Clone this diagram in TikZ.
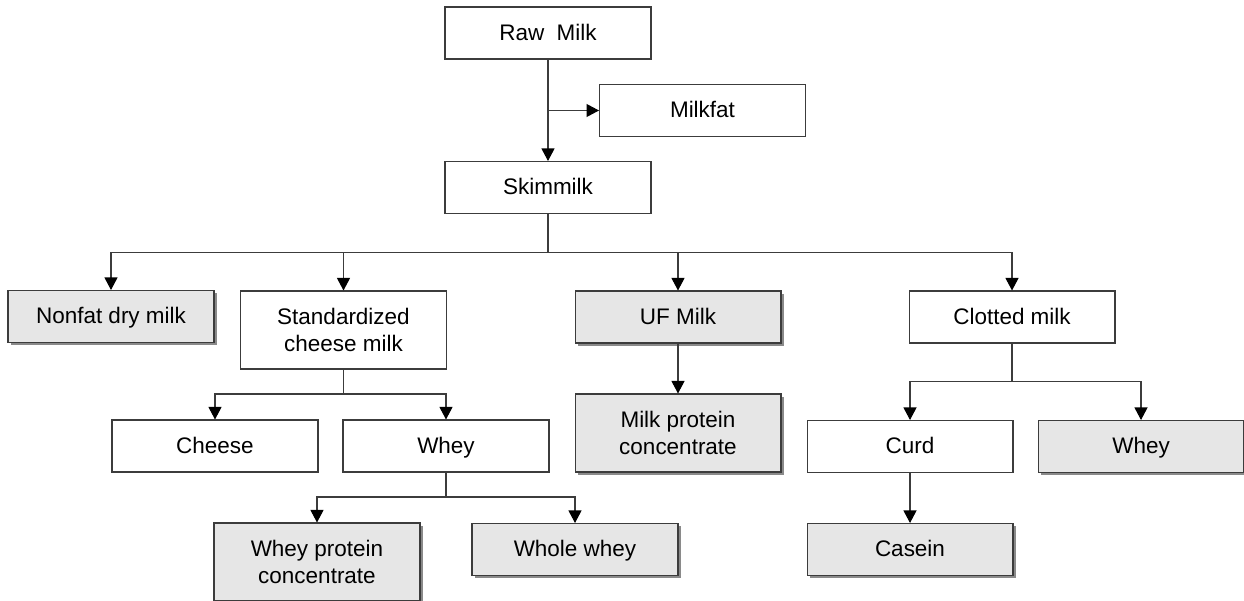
\documentclass[tikz,border=0pt]{standalone}
\usepackage{fontspec}
\setmainfont{Liberation Sans}
\usetikzlibrary{arrows.meta,shadows}
\definecolor{boxline}{HTML}{3C3C3C}
\definecolor{boxfill}{HTML}{E6E6E6}
\definecolor{shadowgray}{HTML}{8A8A8A}
\tikzset{
    box/.style={draw=boxline, fill=white, line width=0.6pt, minimum width=4.12cm,
        minimum height=1.04cm, inner sep=0pt, align=center,
        text height=9pt, text depth=1pt,
        font=\fontsize{12.8}{15}\selectfont},
    tallbox/.style={box, minimum height=1.56cm, text height=, text depth=},
    product/.style={fill=boxfill, drop shadow={shadow xshift=0.055cm,
        shadow yshift=-0.055cm, fill=shadowgray, opacity=1}},
    arr/.style={draw=boxline, line width=0.6pt,
        -{Triangle[length=2.5mm,width=2.6mm,color=black]}},
    link/.style={draw=boxline, line width=0.6pt}
}
\begin{document}
\begin{tikzpicture}[x=0.02cm, y=-0.02cm]
        \useasboundingbox (0,0) rectangle (1244,601);

        \node[box] (rawmilk) at (548,33) {Raw\ \ Milk};
        \node[box] (milkfat) at (702.5,110.5) {Milkfat};
        \node[box] (skimmilk) at (548,187.5) {Skimmilk};

        \node[box, product] (nonfat) at (111,316.5) {Nonfat dry milk};
        \node[tallbox] (stdcheese) at (343.5,330) {Standardized\\cheese milk};
        \node[box, product] (ufmilk) at (678,317) {UF Milk};
        \node[box] (clotted) at (1012,317) {Clotted milk};

        \node[box] (cheese) at (215,446) {Cheese};
        \node[box] (wheyone) at (446,446) {Whey};
        \node[tallbox, product] (mpc) at (678,433) {Milk protein\\concentrate};
        \node[box] (curd) at (910,446.5) {Curd};
        \node[box, product] (wheytwo) at (1141,446.5) {Whey};

        \node[tallbox, product] (wpc) at (317,562) {Whey protein\\concentrate};
        \node[box, product] (wholewhey) at (575,549.5) {Whole whey};
        \node[box, product] (casein) at (910,549.5) {Casein};

        \coordinate (skimbus) at (548,252.5);
        \coordinate (cheesebus) at (343.5,394);
        \coordinate (wheybus) at (446,497);
        \coordinate (clotbus) at (1012,381.5);

        \draw[arr] (rawmilk) -- (skimmilk);
        \draw[arr] (rawmilk.south |- milkfat.west) -- (milkfat.west);

        \draw[link] (skimmilk) -- (skimbus);
        \draw[arr] (skimbus) -| (nonfat);
        \draw[arr] (skimbus) -| (stdcheese);
        \draw[arr] (skimbus) -| (ufmilk);
        \draw[arr] (skimbus) -| (clotted);

        \draw[link] (stdcheese) -- (cheesebus);
        \draw[arr] (cheesebus) -| (cheese);
        \draw[arr] (cheesebus) -| (wheyone);

        \draw[link] (wheyone) -- (wheybus);
        \draw[arr] (wheybus) -| (wpc);
        \draw[arr] (wheybus) -| (wholewhey);

        \draw[arr] (ufmilk) -- (mpc);

        \draw[link] (clotted) -- (clotbus);
        \draw[arr] (clotbus) -| (curd);
        \draw[arr] (clotbus) -| (wheytwo);
        \draw[arr] (curd) -- (casein);
    \end{tikzpicture}
\end{document}
